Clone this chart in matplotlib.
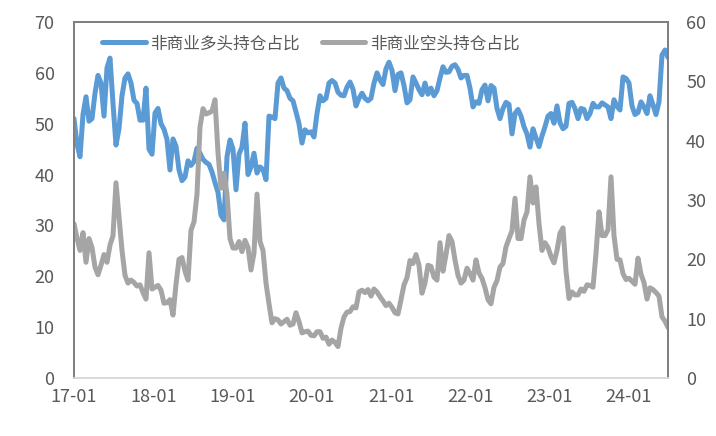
#!/usr/bin/env python3
import pandas as pd
import matplotlib.pyplot as plt
import matplotlib.dates as mdates

plt.rcParams['font.family'] = ['Noto Sans CJK SC', 'DejaVu Sans']

# 双周取样的读数 (2017-01 至 2024-07)
long_pct = [
    51, 46, 43.5, 51.8, 55.3, 50.5, 51, 56, 59.5, 58,
    51.5, 61, 62.9, 54, 45.8, 49, 55.5, 59.0, 59.8, 58,
    54.6, 54, 50.7, 50.7, 57.0, 45, 44, 52.1, 53, 50,
    48.9, 46.9, 40.9, 47, 45.6, 40.9, 38.8, 39.5, 42.7, 41.8,
    42.6, 45.2, 44.2, 43, 42.4, 42, 40.5, 38.4, 36.5, 32,
    31.1, 43.5, 46.8, 45, 37, 44, 45.4, 50.1, 40, 41.5,
    44.2, 40.3, 41.5, 41, 39, 51.5, 51.3, 51, 58, 59.0,
    57, 56.5, 55, 54.5, 52.3, 50, 46.2, 48.8, 48.2, 48.4,
    47.4, 52, 55.5, 54.5, 55, 58, 58.5, 58, 56.2, 55.6,
    55.5, 57.2, 58.2, 56.8, 53.5, 55, 56, 55, 54.5, 55,
    58, 60, 58.6, 57.7, 60.8, 62.1, 60.5, 56.5, 59.7, 60,
    57.5, 54.1, 54.7, 59.2, 58, 56.7, 55.7, 58, 55.8, 57,
    55.5, 56.5, 59, 61.2, 60.1, 60.2, 61.3, 61.6, 60.7, 59,
    59.5, 59.5, 57, 53.3, 54.3, 54, 56.7, 57.6, 54.5, 57.5,
    57, 53, 51, 53, 54.2, 53.8, 48, 52, 52.8, 51.5,
    49.4, 48, 45.4, 49, 47.2, 45.5, 47.6, 49.4, 51.5, 52,
    50.1, 53.5, 50.2, 49, 49.5, 54, 54.2, 53, 51, 53,
    52.8, 51, 52, 54, 53.3, 53.3, 54.1, 53.7, 53.3, 51,
    54.7, 53.4, 52.7, 59.2, 58.9, 58, 53.5, 51.8, 52.2, 54.3,
    53.3, 52, 55.5, 53.7, 51.8, 54.3, 63.5, 64.5, 63,
]

short_pct = [
    26, 23.6, 21.5, 24.5, 19.5, 23.5, 22, 18.7, 17.4, 19,
    20.8, 19.5, 22.4, 24, 32.9, 27.1, 21.5, 17.3, 16.0, 16.5,
    16.1, 15.5, 15.7, 14.4, 13.3, 21.1, 15, 15.3, 15.6, 14.8,
    12.6, 12.7, 13.2, 10.6, 15.8, 20, 20.3, 18, 16.5, 24.9,
    26.3, 31, 42.3, 45.4, 44.5, 44.7, 45, 46.9, 38, 32,
    34.5, 31, 23.5, 21.9, 21.9, 23, 21.3, 23.2, 22, 18.2,
    21.1, 31, 23, 21.5, 16, 12.5, 9.3, 10, 9.8, 9.1,
    9.5, 9.9, 8.9, 9.1, 11, 9.5, 7.6, 7.8, 7.9, 7.2,
    7.1, 7.8, 7.8, 6.7, 6.9, 5.7, 6.4, 6.0, 5.3, 8.4,
    10.3, 11.1, 11.2, 12, 11.8, 14.5, 14.8, 14.4, 14.9, 13.8,
    15, 14.5, 13.7, 13, 12.2, 12.6, 11.9, 11, 10.8, 13.2,
    15.7, 16.9, 19.8, 19.3, 20.8, 19, 14.3, 16, 19, 18.8,
    17, 16.5, 22.8, 18, 20.8, 24, 23, 19.9, 17.3, 16,
    16.5, 18.5, 17.6, 16.5, 19.9, 17.7, 16.8, 15.2, 13.2, 12.5,
    15.3, 16.4, 18.7, 19.3, 22.1, 23.5, 24.8, 30.3, 23.5, 23.5,
    26.6, 28, 33.9, 29.5, 32.2, 26, 21.5, 22.8, 22, 20.5,
    19.4, 21.5, 24.4, 25.3, 18, 13.4, 14.5, 14, 14, 15,
    14.6, 15.7, 15.6, 15.3, 21, 28, 24, 24, 25, 33.9,
    24, 20, 19.9, 17.6, 16.6, 16.8, 16.3, 15.8, 20.2, 17.5,
    16.1, 13.3, 15.2, 14.9, 14.4, 13.8, 10.3, 9.6, 8.5,
]

dates = pd.date_range('2017-01-03', '2024-07-02', periods=len(long_pct))
year_ticks = [pd.Timestamp(f'{y}-01-03') for y in range(2017, 2025)]

fig = plt.figure(figsize=(7.16, 4.36), dpi=100)
ax = fig.add_axes([74 / 716, 1 - 378 / 436, 594 / 716, 356 / 436])
ax2 = ax.twinx()

blue = '#5B9BD5'
gray = '#A5A5A5'
text_c = '#595959'

l1, = ax.plot(dates, long_pct, color=blue, lw=3.6, solid_capstyle='round',
              label='非商业多头持仓占比')
l2, = ax2.plot(dates, short_pct, color=gray, lw=3.6, solid_capstyle='round',
               label='非商业空头持仓占比')

ax.set_ylim(0, 70)
ax.set_yticks(range(0, 71, 10))
ax2.set_ylim(0, 60)
ax2.set_yticks(range(0, 61, 10))
ax.set_xlim(dates[0], dates[-1])
ax.set_xticks(year_ticks)
ax.xaxis.set_major_formatter(mdates.DateFormatter('%y-%m'))

for a in (ax, ax2):
    a.tick_params(length=0, labelsize=13, labelcolor=text_c)
    for s in a.spines.values():
        s.set_color('#7F7F7F')
        s.set_linewidth(1.3)
    a.spines['bottom'].set_color('#D9D9D9')
ax.tick_params(axis='y', pad=14)
ax2.tick_params(axis='y', pad=13)
ax.tick_params(axis='x', pad=7)

# 图例放在顶部，两列
ax2.legend([l1, l2], [l1.get_label(), l2.get_label()], loc='upper left',
           bbox_to_anchor=(0.025, 1.0), ncol=2, frameon=False, fontsize=12,
           handlelength=2.6, handletextpad=0.3, columnspacing=1.3,
           labelcolor=text_c, borderaxespad=0.4)

plt.savefig('out.png', dpi=100)
